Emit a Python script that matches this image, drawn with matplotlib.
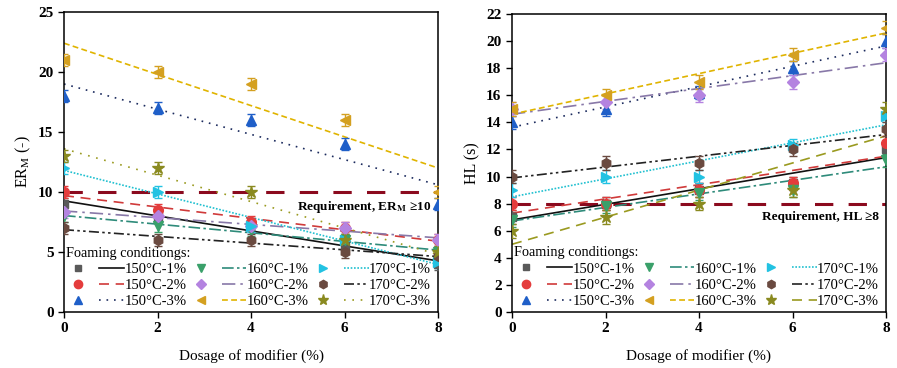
import numpy as np
import matplotlib
matplotlib.use("Agg")
import matplotlib.pyplot as plt
from matplotlib.lines import Line2D
from matplotlib.legend_handler import HandlerTuple

plt.rcParams['font.family'] = ['Liberation Serif', 'DejaVu Serif']
plt.rcParams['mathtext.fontset'] = 'stix'

dosage = [0, 2, 4, 6, 8]
labels = ['150°C-1%', '150°C-2%', '150°C-3%',
          '160°C-1%', '160°C-2%', '160°C-3%',
          '170°C-1%', '170°C-2%', '170°C-3%']

# ER_M (-) per foaming condition
er_150_1 = [9.0, 8.0, 7.3, 5.5, 4.0]
er_150_2 = [10.0, 8.5, 7.5, 7.0, 6.0]
er_150_3 = [18.0, 17.0, 16.0, 14.0, 9.0]
er_160_1 = [8.0, 7.2, 6.8, 6.0, 5.0]
er_160_2 = [8.3, 8.0, 7.2, 7.0, 6.0]
er_160_3 = [21.0, 20.0, 19.0, 16.0, 10.0]
er_170_1 = [12.0, 10.0, 7.2, 6.0, 4.2]
er_170_2 = [7.0, 6.0, 6.0, 5.0, 4.7]
er_170_3 = [13.0, 12.0, 10.0, 6.0, 5.0]

# HL (s) per foaming condition
hl_150_1 = [7.0, 8.0, 9.0, 9.5, 12.0]
hl_150_2 = [8.0, 8.0, 9.0, 9.5, 12.5]
hl_150_3 = [14.0, 15.0, 16.2, 18.0, 20.0]
hl_160_1 = [6.8, 7.8, 8.8, 9.0, 11.2]
hl_160_2 = [15.0, 15.5, 16.0, 17.0, 19.0]
hl_160_3 = [15.0, 16.0, 17.0, 19.0, 21.0]
hl_170_1 = [9.0, 10.0, 10.0, 12.3, 14.5]
hl_170_2 = [10.0, 11.0, 11.0, 12.0, 13.5]
hl_170_3 = [6.0, 7.0, 8.0, 9.0, 15.0]

er_err = 0.5
hl_err = 0.5

er_data = [er_150_1, er_150_2, er_150_3, er_160_1, er_160_2, er_160_3, er_170_1, er_170_2, er_170_3]
hl_data = [hl_150_1, hl_150_2, hl_150_3, hl_160_1, hl_160_2, hl_160_3, hl_170_1, hl_170_2, hl_170_3]

markers = ['s', 'o', '^', 'v', 'D', '<', '>', 'h', '*']
mcolors = ['#5a5a5a', '#e43c3c', '#1f5fc8', '#3aa06a', '#b483e0', '#d4a020', '#22c2e2', '#6a4a40', '#8a8a20']
msizes = [6, 7, 7, 7, 6, 7, 7, 7, 9]
lcolors = ['#111111', '#d03a3a', '#1c2b5e', '#2e8b7a', '#8878a8', '#e0b400', '#20c0d0', '#222222', '#9a9a20']
ldash_left = [(), (6, 4), (1, 3.5), (7, 2, 1.5, 2), (8, 3, 1.5, 3), (3.5, 2), (1, 1), (6, 2, 1.5, 2, 1.5, 2), (1, 4)]
ldash_right = [(), (6, 4), (1, 3.5), (7, 2, 1.5, 2), (8, 3, 1.5, 3), (3.5, 2), (1, 1), (6, 2, 1.5, 2, 1.5, 2), (6, 4)]

req_color = '#8b0a1e'

fig = plt.figure(figsize=(8.97, 3.68), dpi=100)
ax1 = fig.add_axes([64 / 897, 56 / 368, 374 / 897, 300 / 368])
ax2 = fig.add_axes([512 / 897, 56 / 368, 374 / 897, 298 / 368])


def draw(ax, data, err, dashes, req, req_text, ymax, ystep, ylabel):
    xs = np.array(dosage, dtype=float)
    xfit = np.linspace(0, 8, 50)
    ax.axhline(req, color=req_color, lw=2.2, dashes=(6, 5), zorder=1)
    handles = []
    for i, y in enumerate(data):
        k, b = np.polyfit(xs, y, 1)
        ls_kw = dict(color=lcolors[i], lw=1.2)
        if dashes[i]:
            ls_kw['dashes'] = dashes[i]
        ax.plot(xfit, k * xfit + b, zorder=2, **ls_kw)
        ax.errorbar(xs, y, yerr=err, fmt=markers[i], color=mcolors[i], ms=msizes[i],
                    mec=mcolors[i], elinewidth=1, capsize=3, capthick=1, zorder=3)
        mh = Line2D([], [], ls='none', marker=markers[i], color=mcolors[i], ms=msizes[i] - 1)
        lh = Line2D([], [], **ls_kw)
        handles.append((mh, lh))
    ax.annotate(req_text, xy=(7.85, req), xytext=(0, -5), textcoords='offset points',
                ha='right', va='top', fontsize=9.5, fontweight='bold')
    ax.legend(handles, labels, ncol=3, loc='lower left', bbox_to_anchor=(-0.03, -0.03),
              handler_map={tuple: HandlerTuple(ndivide=None, pad=0.6)},
              handlelength=4.0, handletextpad=0.0, columnspacing=0.12,
              labelspacing=0.2, frameon=False, fontsize=10.5,
              title='Foaming conditiongs:', title_fontsize=10.3, alignment='left')
    ax.set_xlim(0, 8)
    ax.set_ylim(0, ymax)
    ax.set_xticks([0, 2, 4, 6, 8])
    ax.set_yticks(np.arange(0, ymax + 0.1, ystep))
    ax.tick_params(direction='out', length=4, width=1, labelsize=11)
    for t in ax.get_xticklabels() + ax.get_yticklabels():
        t.set_fontweight('bold')
    for s in ax.spines.values():
        s.set_linewidth(1.1)
    ax.set_xlabel('Dosage of modifier (%)', fontsize=11, labelpad=10)
    ax.set_ylabel(ylabel, fontsize=11.5, labelpad=4)


draw(ax1, er_data, er_err, ldash_left, 10, 'Requirement, ER$_\\mathbf{M}$ ≥10', 25, 5,
     'ER$_\\mathrm{M}$ (-)')
draw(ax2, hl_data, hl_err, ldash_right, 8, 'Requirement, HL ≥8', 22, 2, 'HL (s)')

fig.savefig('out.png', dpi=100)
